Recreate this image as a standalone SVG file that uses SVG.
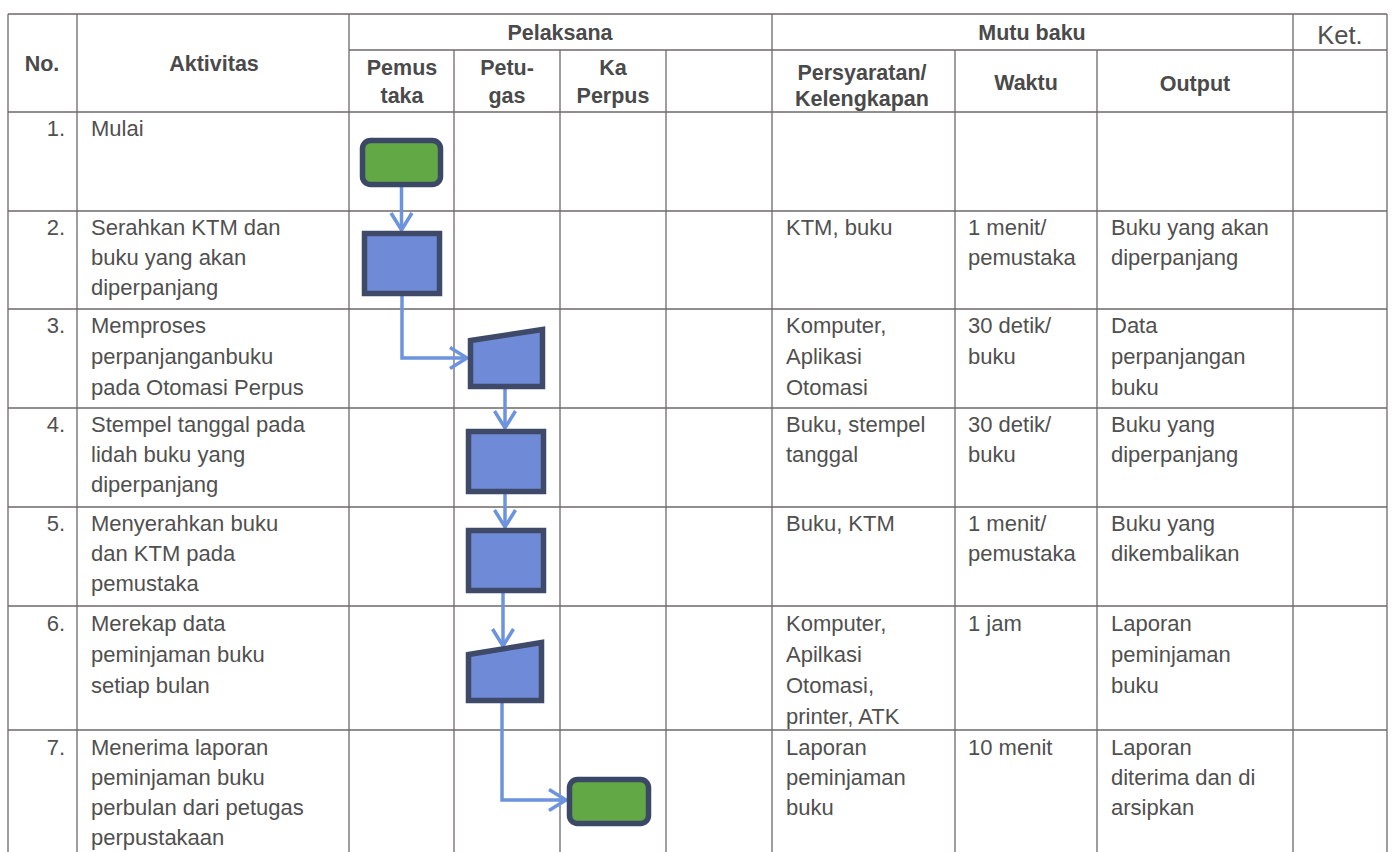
<svg xmlns="http://www.w3.org/2000/svg" width="1393" height="852" viewBox="0 0 1393 852">
<defs>
<style>
.g{stroke:#6e6a68;stroke-width:1.3;fill:none}
.t{font-family:"Liberation Sans",Arial,sans-serif;font-size:22px;fill:#505050}
.h{font-family:"Liberation Sans",Arial,sans-serif;font-size:21.5px;font-weight:bold;fill:#4a4a4a;text-anchor:middle}
.n{text-anchor:end}
.c{stroke:#6c94de;stroke-width:3.5;fill:none;marker-end:url(#arr)}
.term{fill:#62a845;stroke:#3c4966;stroke-width:5.5}
.proc{fill:#6f8bd8;stroke:#3f4a68;stroke-width:5.5;stroke-linejoin:miter}
</style>
<marker id="arr" markerUnits="userSpaceOnUse" markerWidth="26" markerHeight="26" refX="18" refY="12" orient="auto">
<path d="M1,1.5 L18,12 L1,22.5" fill="none" stroke="#6c94de" stroke-width="3.5"/>
</marker>
</defs>
<rect width="1393" height="852" fill="#ffffff"/>
<g id="grid">
<path class="g" d="M8,14H1387M349,50H1387M8,112H1387M8,211H1387M8,309H1387M8,408H1387M8,507H1387M8,606H1387M8,730H1387"/>
<path class="g" d="M8,14V852M77,14V852M349,14V852M454,50V852M560,50V852M666,50V852M772,14V852M955,50V852M1097,50V852M1293,14V852M1387,14V852"/>
</g>
<g id="headers">
<text class="h" x="42" y="71">No.</text>
<text class="h" x="214" y="71">Aktivitas</text>
<text class="h" x="560" y="40">Pelaksana</text>
<text class="h" x="1032" y="40">Mutu baku</text>
<text class="t" x="1340" y="44" style="font-size:25.5px;text-anchor:middle">Ket.</text>
<text class="h" x="402" y="75">Pemus</text>
<text class="h" x="402" y="103">taka</text>
<text class="h" x="507" y="75">Petu-</text>
<text class="h" x="507" y="103">gas</text>
<text class="h" x="613" y="75">Ka</text>
<text class="h" x="613" y="103">Perpus</text>
<text class="h" x="862" y="80">Persyaratan/</text>
<text class="h" x="862" y="106">Kelengkapan</text>
<text class="h" x="1026" y="90">Waktu</text>
<text class="h" x="1195" y="91">Output</text>
</g>
<g id="rows">
<text class="t n" x="65" y="136">1.</text>
<text class="t" x="91" y="136">Mulai</text>

<text class="t n" x="65" y="235">2.</text>
<text class="t" x="91" y="235">Serahkan KTM dan</text>
<text class="t" x="91" y="265">buku yang akan</text>
<text class="t" x="91" y="295">diperpanjang</text>
<text class="t" x="786" y="235">KTM, buku</text>
<text class="t" x="968" y="235">1 menit/</text>
<text class="t" x="968" y="265">pemustaka</text>
<text class="t" x="1111" y="235">Buku yang akan</text>
<text class="t" x="1111" y="265">diperpanjang</text>

<text class="t n" x="65" y="333">3.</text>
<text class="t" x="91" y="333">Memproses</text>
<text class="t" x="91" y="364">perpanjanganbuku</text>
<text class="t" x="91" y="395">pada Otomasi Perpus</text>
<text class="t" x="786" y="333">Komputer,</text>
<text class="t" x="786" y="364">Aplikasi</text>
<text class="t" x="786" y="395">Otomasi</text>
<text class="t" x="968" y="333">30 detik/</text>
<text class="t" x="968" y="364">buku</text>
<text class="t" x="1111" y="333">Data</text>
<text class="t" x="1111" y="364">perpanjangan</text>
<text class="t" x="1111" y="395">buku</text>

<text class="t n" x="65" y="432">4.</text>
<text class="t" x="91" y="432">Stempel tanggal pada</text>
<text class="t" x="91" y="462">lidah buku yang</text>
<text class="t" x="91" y="492">diperpanjang</text>
<text class="t" x="786" y="432">Buku, stempel</text>
<text class="t" x="786" y="462">tanggal</text>
<text class="t" x="968" y="432">30 detik/</text>
<text class="t" x="968" y="462">buku</text>
<text class="t" x="1111" y="432">Buku yang</text>
<text class="t" x="1111" y="462">diperpanjang</text>

<text class="t n" x="65" y="531">5.</text>
<text class="t" x="91" y="531">Menyerahkan buku</text>
<text class="t" x="91" y="561">dan KTM pada</text>
<text class="t" x="91" y="591">pemustaka</text>
<text class="t" x="786" y="531">Buku, KTM</text>
<text class="t" x="968" y="531">1 menit/</text>
<text class="t" x="968" y="561">pemustaka</text>
<text class="t" x="1111" y="531">Buku yang</text>
<text class="t" x="1111" y="561">dikembalikan</text>

<text class="t n" x="65" y="631">6.</text>
<text class="t" x="91" y="631">Merekap data</text>
<text class="t" x="91" y="662">peminjaman buku</text>
<text class="t" x="91" y="693">setiap bulan</text>
<text class="t" x="786" y="631">Komputer,</text>
<text class="t" x="786" y="662">Apilkasi</text>
<text class="t" x="786" y="693">Otomasi,</text>
<text class="t" x="786" y="724">printer, ATK</text>
<text class="t" x="968" y="631">1 jam</text>
<text class="t" x="1111" y="631">Laporan</text>
<text class="t" x="1111" y="662">peminjaman</text>
<text class="t" x="1111" y="693">buku</text>

<text class="t n" x="65" y="755">7.</text>
<text class="t" x="91" y="755">Menerima laporan</text>
<text class="t" x="91" y="785">peminjaman buku</text>
<text class="t" x="91" y="815">perbulan dari petugas</text>
<text class="t" x="91" y="845">perpustakaan</text>
<text class="t" x="786" y="755">Laporan</text>
<text class="t" x="786" y="785">peminjaman</text>
<text class="t" x="786" y="815">buku</text>
<text class="t" x="968" y="755">10 menit</text>
<text class="t" x="1111" y="755">Laporan</text>
<text class="t" x="1111" y="785">diterima dan di</text>
<text class="t" x="1111" y="815">arsipkan</text>
</g>
<g id="connectors">
<path class="c" d="M401.5,187 L401.5,230"/>
<path class="c" d="M402,296 L402,358 L467,358"/>
<path class="c" d="M505,389 L505,428"/>
<path class="c" d="M505,494 L505,527"/>
<path class="c" d="M503,593 L503,646"/>
<path class="c" d="M502,703 L502,800 L566,800"/>
</g>
<g id="n1"><rect class="term" x="362.5" y="140.5" width="78" height="44" rx="8"/></g>
<g id="n2"><rect class="proc" x="364.5" y="233.5" width="75" height="60"/></g>
<g id="n3"><polygon class="proc" points="470.5,340.5 542.5,329.5 542.5,386.5 470.5,386.5"/></g>
<g id="n4"><rect class="proc" x="468.5" y="431.5" width="75" height="60"/></g>
<g id="n5"><rect class="proc" x="468.5" y="530.5" width="75" height="60"/></g>
<g id="n6"><polygon class="proc" points="468.5,654.5 541.5,642.5 541.5,700.5 468.5,700.5"/></g>
<g id="n7"><rect class="term" x="569.5" y="779.5" width="79" height="44" rx="8"/></g>
</svg>
